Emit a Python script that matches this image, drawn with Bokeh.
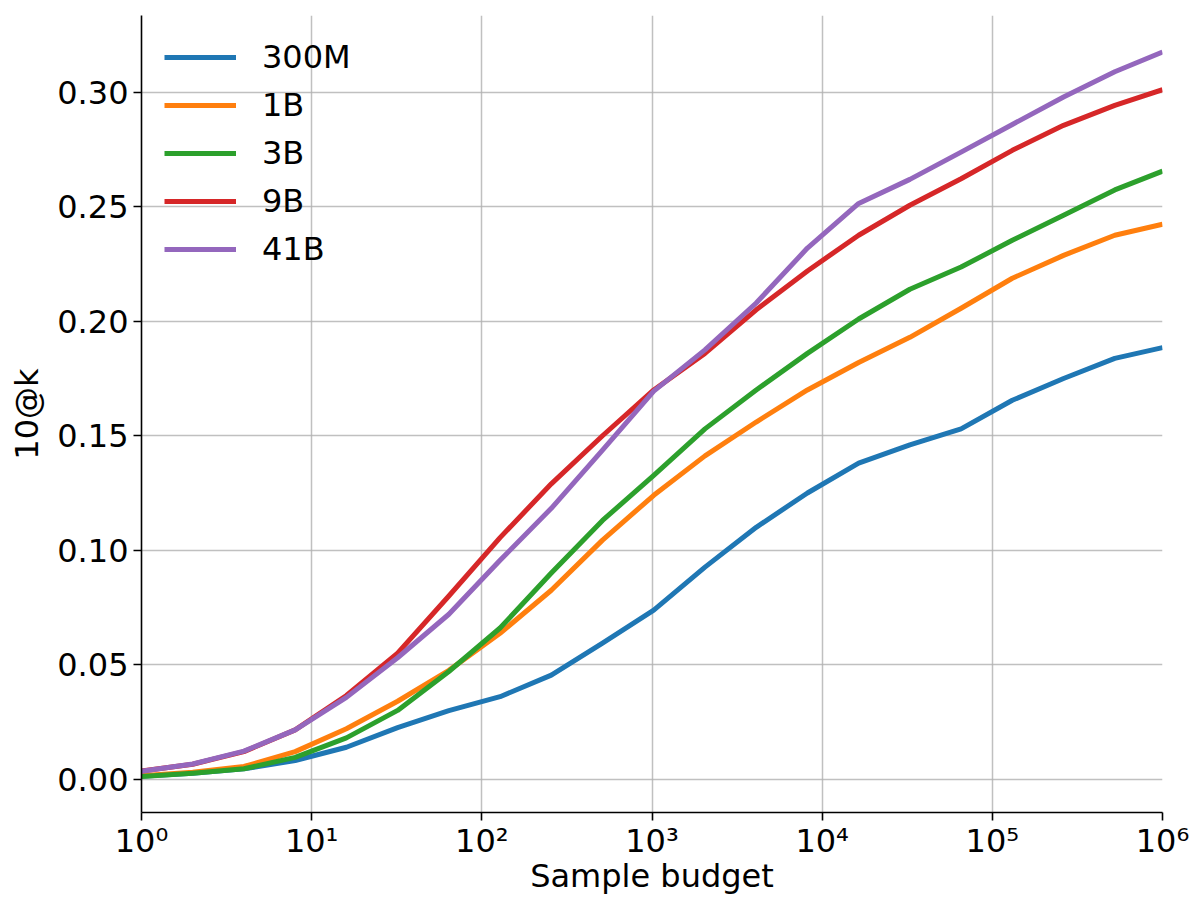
from bokeh.plotting import figure
from bokeh.models import FixedTicker, Range1d
from bokeh.embed import file_html
from bokeh.resources import INLINE

# Sample budgets (powers of two, last point at 10^6)
budget = [1, 2, 4, 8, 16, 32, 64, 128, 256, 512, 1024, 2048, 4096, 8192,
          16384, 32768, 65536, 131072, 262144, 524288, 1000000]

labels = ["300M", "1B", "3B", "9B", "41B"]
colors = ["#1f77b4", "#ff7f0e", "#2ca02c", "#d62728", "#9467bd"]

score_300m = [0.0012, 0.0025, 0.0045, 0.0081, 0.0139, 0.0225, 0.0299, 0.0360,
              0.0454, 0.0594, 0.0738, 0.0926, 0.1100, 0.1250, 0.1380, 0.1460,
              0.1530, 0.1655, 0.1750, 0.1838, 0.1885]
score_1b = [0.0015, 0.0030, 0.0055, 0.0120, 0.0220, 0.0340, 0.0475, 0.0637,
            0.0825, 0.1044, 0.1240, 0.1412, 0.1560, 0.1700, 0.1820, 0.1930,
            0.2057, 0.2188, 0.2288, 0.2376, 0.2424]
score_3b = [0.0011, 0.0026, 0.0045, 0.0095, 0.0180, 0.0300, 0.0470, 0.0660,
            0.0900, 0.1130, 0.1327, 0.1530, 0.1700, 0.1860, 0.2010, 0.2140,
            0.2237, 0.2354, 0.2463, 0.2574, 0.2656]
score_9b = [0.0035, 0.0065, 0.0120, 0.0215, 0.0365, 0.0550, 0.0800, 0.1055,
            0.1290, 0.1500, 0.1700, 0.1860, 0.2050, 0.2220, 0.2376, 0.2507,
            0.2623, 0.2747, 0.2856, 0.2943, 0.3012]
score_41b = [0.0034, 0.0066, 0.0122, 0.0215, 0.0357, 0.0530, 0.0720, 0.0956,
             0.1183, 0.1437, 0.1695, 0.1875, 0.2080, 0.2320, 0.2515, 0.2620,
             0.2739, 0.2860, 0.2980, 0.3090, 0.3176]

x_ticks = [1, 10, 100, 1000, 10000, 100000, 1000000]
x_tick_labels = ["10⁰", "10¹", "10²", "10³", "10⁴", "10⁵", "10⁶"]
y_ticks = [0.0, 0.05, 0.10, 0.15, 0.20, 0.25, 0.30]
y_tick_labels = ["0.00", "0.05", "0.10", "0.15", "0.20", "0.25", "0.30"]

FONT = "DejaVu Sans"
FS = "32px"

p = figure(width=1196, height=897, x_axis_type="log",
           x_range=Range1d(1, 1e6), y_range=Range1d(-0.0146, 0.3336),
           output_backend="svg", toolbar_location=None,
           min_border_left=141, min_border_right=34, min_border_top=15,
           min_border_bottom=85)
p.outline_line_color = None
p.background_fill_color = "white"

all_scores = [score_300m, score_1b, score_3b, score_9b, score_41b]
for lab, col, ys in zip(labels, colors, all_scores):
    p.line(budget, ys, line_color=col, line_width=5, line_join="round",
           legend_label=lab)

p.xaxis.ticker = FixedTicker(ticks=x_ticks, minor_ticks=[])
p.xaxis.major_label_overrides = {t: l for t, l in zip(x_ticks, x_tick_labels)}
p.yaxis.ticker = FixedTicker(ticks=y_ticks, minor_ticks=[])
p.yaxis.major_label_overrides = {t: l for t, l in zip(y_ticks, y_tick_labels)}

for ax in (p.xaxis, p.yaxis):
    ax.axis_line_color = "black"
    ax.axis_line_width = 1.6
    ax.major_tick_line_color = "black"
    ax.major_tick_line_width = 1.6
    ax.major_tick_out = 8
    ax.major_tick_in = 0
    ax.minor_tick_line_color = None
    ax.major_label_text_font = FONT
    ax.major_label_text_font_size = FS
    ax.major_label_text_color = "black"
    ax.axis_label_text_font = FONT
    ax.axis_label_text_font_size = FS
    ax.axis_label_text_font_style = "normal"
    ax.axis_label_text_color = "black"

p.xaxis.axis_label = "Sample budget"
p.yaxis.axis_label = "10@k"
p.xaxis.major_label_standoff = 1
p.xaxis.axis_label_standoff = -6
p.yaxis.major_label_standoff = 5
p.yaxis.axis_label_standoff = 8

for g in (p.xgrid, p.ygrid):
    g.grid_line_color = "#b0b0b0"
    g.grid_line_width = 1.5
    g.grid_line_alpha = 0.8

lg = p.legend[0]
lg.location = "top_left"
lg.border_line_color = None
lg.background_fill_alpha = 0
lg.margin = 23
lg.padding = 17
lg.glyph_width = 72
lg.glyph_height = 36
lg.spacing = 10
lg.label_standoff = 26
lg.label_text_font = FONT
lg.label_text_font_size = FS
lg.label_text_color = "black"

open("out.html", "w").write(file_html(p, INLINE))
